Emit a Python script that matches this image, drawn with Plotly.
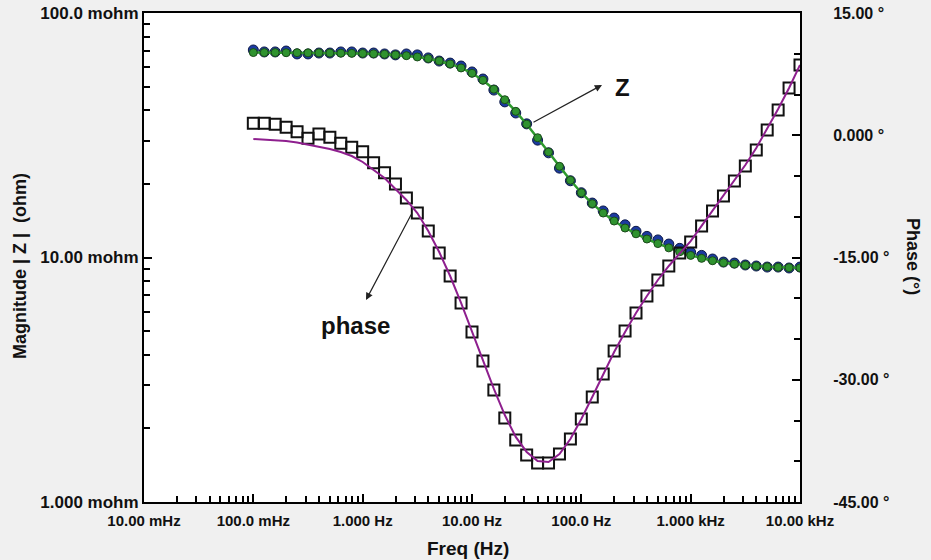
import plotly.graph_objects as go

# ---------------- data ----------------
freq_hz = [0.1, 0.1259, 0.1585, 0.1995, 0.2512, 0.3162, 0.3981, 0.5012, 0.631, 0.7943,
           1.0, 1.259, 1.585, 1.995, 2.512, 3.162, 3.981, 5.012, 6.31, 7.943,
           10.0, 12.59, 15.85, 19.95, 25.12, 31.62, 39.81, 50.12, 63.1, 79.43,
           100.0, 125.9, 158.5, 199.5, 251.2, 316.2, 398.1, 501.2, 631.0, 794.3,
           1000.0, 1259.0, 1585.0, 1995.0, 2512.0, 3162.0, 3981.0, 5012.0, 6310.0, 7943.0,
           10000.0]

# |Z| measured (mohm)
z_meas_mohm = [70.6, 69.3, 69.3, 69.9, 68.0, 68.0, 68.6, 68.6, 69.3, 69.3,
               68.6, 68.6, 68.0, 67.4, 68.0, 67.4, 65.5, 63.6, 62.4, 60.7,
               57.4, 53.7, 48.4, 43.3, 39.0, 35.2, 30.2, 26.8, 23.2, 20.6,
               18.4, 16.7, 15.5, 14.5, 13.6, 12.8, 12.2, 11.8, 11.35, 10.9,
               10.5, 10.2, 9.86, 9.58, 9.49, 9.32, 9.23, 9.14, 9.14, 9.06, 9.14]

# |Z| fit (mohm)
z_fit_mohm = [68.9, 68.9, 68.9, 68.8, 68.8, 68.7, 68.7, 68.6, 68.5, 68.4,
              68.3, 68.1, 67.8, 67.4, 66.9, 66.1, 65.1, 63.7, 61.9, 59.6,
              56.7, 53.1, 48.8, 44.2, 39.6, 35.1, 30.9, 27.0, 23.6, 20.7,
              18.4, 16.6, 15.2, 14.1, 13.2, 12.5, 11.9, 11.4, 10.95, 10.55,
              10.2, 9.92, 9.7, 9.52, 9.4, 9.3, 9.22, 9.16, 9.12, 9.09, 9.07]

# phase measured (deg)
phase_meas_deg = [1.47, 1.47, 1.34, 0.98, 0.44, -0.37, 0.15, -0.25, -0.99, -1.48,
                  -2.02, -3.37, -4.6, -5.98, -7.7, -9.54, -11.75, -14.45, -17.27, -20.58,
                  -24.14, -27.7, -31.26, -34.69, -37.39, -39.23, -40.21, -40.21, -39.11, -37.27,
                  -34.82, -32.12, -29.29, -26.47, -24.02, -21.81, -19.72, -17.76, -16.04, -14.45,
                  -13.1, -11.13, -9.29, -7.45, -5.61, -3.77, -1.81, 0.64, 3.1, 5.8, 8.62]

# phase fit (deg)
phase_fit_deg = [-0.46, -0.52, -0.58, -0.71, -0.89, -1.13, -1.38, -1.69, -2.06, -2.55,
                 -3.28, -4.26, -5.25, -6.6, -7.94, -9.54, -11.75, -14.33, -17.27, -20.58,
                 -24.14, -27.7, -31.13, -34.33, -37.02, -38.86, -39.97, -40.09, -39.11, -37.27,
                 -34.82, -32.12, -29.29, -26.6, -24.14, -21.81, -19.72, -17.76, -16.04, -14.45,
                 -12.98, -11.13, -9.29, -7.45, -5.61, -3.65, -1.56, 0.77, 3.22, 5.8, 8.62]

x_tickvals = [0.01, 0.1, 1, 10, 100, 1000, 10000]
x_ticktext = ["10.00 mHz", "100.0 mHz", "1.000 Hz", "10.00 Hz", "100.0 Hz", "1.000 kHz", "10.00 kHz"]
y_tickvals = [0.001, 0.01, 0.1]
y_ticktext = ["1.000 mohm", "10.00 mohm", "100.0 mohm"]
y2_tickvals = [-45, -30, -15, 0, 15]
y2_ticktext = ["-45.00 °", "-30.00 °", "-15.00 °", "0.000 °", "15.00 °"]

z_meas_ohm = [v / 1000.0 for v in z_meas_mohm]
z_fit_ohm = [v / 1000.0 for v in z_fit_mohm]

x_minor = [m * 10 ** d for d in range(-2, 4) for m in range(2, 10)]
y_minor = [m * 10 ** d for d in range(-3, -1) for m in range(2, 10)]

FONT = "Liberation Sans, Arial, sans-serif"
TXT = "#111111"

fig = go.Figure()

fig.add_trace(go.Scatter(
    x=freq_hz, y=phase_meas_deg, yaxis="y2", mode="markers", name="phase",
    marker=dict(symbol="square-open", size=11, color="#111111", line=dict(width=2, color="#111111")),
    showlegend=False))
fig.add_trace(go.Scatter(
    x=freq_hz, y=phase_fit_deg, yaxis="y2", mode="lines", name="phase fit",
    line=dict(color="#8e1f8e", width=2), showlegend=False))
fig.add_trace(go.Scatter(
    x=freq_hz, y=z_meas_ohm, mode="markers", name="|Z|",
    marker=dict(symbol="circle", size=10, color="#1c3aa0", line=dict(width=1, color="#0d1a48")),
    showlegend=False))
fig.add_trace(go.Scatter(
    x=freq_hz, y=z_fit_ohm, mode="lines+markers", name="|Z| fit",
    line=dict(color="#2e9a2e", width=2.5),
    marker=dict(symbol="circle", size=8, color="#2f932f", line=dict(width=1, color="#1a4a1a")),
    showlegend=False))

axis_common = dict(showline=True, linecolor="black", linewidth=2, showgrid=False, zeroline=False,
                   ticks="inside", tickcolor="black", ticklen=8, tickwidth=2, automargin=False)

fig.update_layout(
    width=931, height=560,
    margin=dict(l=144, r=131, t=13, b=58),
    paper_bgcolor="#f0f0f0", plot_bgcolor="white",
    font=dict(family=FONT, color=TXT),
    xaxis=dict(type="log", range=[-2, 4], tickmode="array", tickvals=x_tickvals, ticktext=x_ticktext,
               tickfont=dict(family=FONT, size=15, color=TXT, weight="bold"),
               mirror=True, ticklabelstandoff=4,
               minor=dict(tickmode="array", tickvals=x_minor, ticks="inside", ticklen=6,
                          tickwidth=1.5, tickcolor="black", showgrid=False),
               **axis_common),
    yaxis=dict(type="log", range=[-3, -1], tickmode="array", tickvals=y_tickvals, ticktext=y_ticktext,
               tickfont=dict(family=FONT, size=17, color=TXT, weight="bold"),
               minor=dict(tickmode="array", tickvals=y_minor, ticks="inside", ticklen=6,
                          tickwidth=1.5, tickcolor="black", showgrid=False),
               **axis_common),
    yaxis2=dict(overlaying="y", side="right", range=[-45, 15], tickmode="array",
                tickvals=y2_tickvals, ticktext=y2_ticktext,
                tickfont=dict(family=FONT, size=16, color=TXT, weight="bold"),
                ticklabelstandoff=28,
                minor=dict(dtick=5, ticks="inside", ticklen=6, tickwidth=1.5, tickcolor="black",
                           showgrid=False),
                **axis_common),
)

ann_font = dict(family=FONT, color=TXT, weight="bold")
fig.add_annotation(xref="paper", yref="paper", x=(468 - 144) / 656, y=(560 - 548 - 58) / 489,
                   text="Freq (Hz)", showarrow=False, font=dict(size=19, **ann_font),
                   xanchor="center", yanchor="middle")
fig.add_annotation(xref="paper", yref="paper", x=(20 - 144) / 656, y=(502 - 266) / 489,
                   text="Magnitude | Z |  (ohm)", showarrow=False, textangle=-90,
                   font=dict(size=18, **ann_font), xanchor="center", yanchor="middle")
fig.add_annotation(xref="paper", yref="paper", x=(913 - 144) / 656, y=(502 - 256) / 489,
                   text="Phase (°)", showarrow=False, textangle=90,
                   font=dict(size=18, **ann_font), xanchor="center", yanchor="middle")

# "Z" label with arrow pointing toward it
fig.add_annotation(xref="paper", yref="paper", x=(602 - 144) / 656, y=(502 - 85) / 489,
                   text="", showarrow=True, arrowhead=2, arrowsize=1.2, arrowwidth=1.2,
                   arrowcolor="#222222", ax=-70, ay=38, standoff=0)
fig.add_annotation(xref="paper", yref="paper", x=(622 - 144) / 656, y=(502 - 87) / 489,
                   text="Z", showarrow=False, font=dict(size=24, **ann_font),
                   xanchor="center", yanchor="middle")
# "phase" label with arrow
fig.add_annotation(xref="paper", yref="paper", x=(366 - 144) / 656, y=(502 - 300) / 489,
                   text="", showarrow=True, arrowhead=2, arrowsize=1.2, arrowwidth=1.2,
                   arrowcolor="#222222", ax=46, ay=-87, standoff=0)
fig.add_annotation(xref="paper", yref="paper", x=(355 - 144) / 656, y=(502 - 326) / 489,
                   text="phase", showarrow=False, font=dict(size=24, **ann_font),
                   xanchor="center", yanchor="middle")

fig.write_html("out.html")
